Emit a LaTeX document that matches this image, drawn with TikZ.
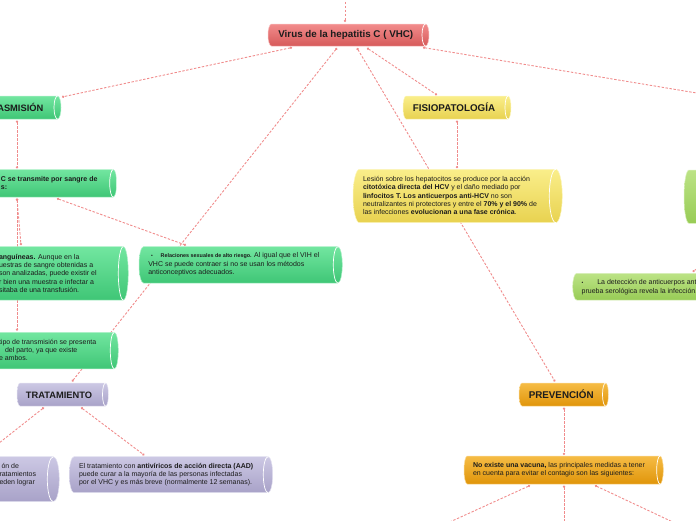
\documentclass[tikz,border=0pt]{standalone}
\usepackage{fontspec}
\setmainfont{Liberation Sans}
\usetikzlibrary{calc,arrows.meta}
\pgfdeclarelayer{background}
\pgfsetlayers{background,main}
\definecolor{linkc}{HTML}{F08C8C}
\definecolor{txtc}{HTML}{1C1C1C}
\definecolor{redT}{HTML}{F28C8C}
\definecolor{redB}{HTML}{D65A5A}
\definecolor{grnT}{HTML}{72E6A0}
\definecolor{grnB}{HTML}{3FC676}
\definecolor{yelT}{HTML}{FAEE8A}
\definecolor{yelB}{HTML}{E8D250}
\definecolor{purT}{HTML}{CCC8E4}
\definecolor{purB}{HTML}{A8A2C8}
\definecolor{oraT}{HTML}{F6BC45}
\definecolor{oraB}{HTML}{E0950A}
\definecolor{limT}{HTML}{BCE386}
\definecolor{limB}{HTML}{98CC56}
\newcommand\headfont{\fontsize{9.8}{11}\selectfont\bfseries}
\newcommand\bodyfont{\fontsize{7}{8.2}\selectfont}
% name, x1, y1, x2, y2, top colour, bottom colour, end radius
\newcommand\cylshape[8]{%
  \pgfmathsetmacro\cxa{#2+#8}%
  \pgfmathsetmacro\cxb{#4-#8}%
  \pgfmathsetmacro\chh{(#5-#3)/2}%
  \pgfmathsetmacro\cw{#4-#2}%
  \pgfmathsetmacro\cht{#5-#3}%
  \pgfmathsetmacro\cmx{(#2+#4)/2}%
  \pgfmathsetmacro\cmy{(#3+#5)/2}%
  \shade[top color=#6,bottom color=#7,draw=#6!55!white,line width=0.5pt]
    (\cxa,#3) -- (\cxb,#3) arc[start angle=90,end angle=-90,x radius=#8pt,y radius=\chh pt]
    -- (\cxa,#5) arc[start angle=270,end angle=90,x radius=#8pt,y radius=\chh pt] -- cycle;
  \draw[white,line width=0.7pt] (\cxb,#3) arc[start angle=90,end angle=270,x radius=#8pt,y radius=\chh pt];
  \node[inner sep=0,outer sep=0,minimum width=\cw pt,minimum height=\cht pt] (#1) at (\cmx,\cmy) {};
}
\begin{document}
\begin{tikzpicture}[x=1pt,y=-1pt,
  conn/.style={draw=linkc,line width=0.9pt,dash pattern=on 2.4pt off 1.6pt,{Circle[length=2.3pt]}-{Circle[length=2.3pt]}},
  head/.style={inner sep=0,outer sep=0,anchor=base,font=\headfont,text=txtc},
  body/.style={inner sep=0,outer sep=0,anchor=north west,align=left,font=\bodyfont,text=txtc}]
\useasboundingbox (0,0) rectangle (696,520);
\clip (0,0) rectangle (696,520);

\cylshape{root}{268}{24}{429}{46}{redT}{redB}{3.5}
\cylshape{trans}{-35}{96}{61}{119}{grnT}{grnB}{3.5}
\cylshape{fisio}{403}{96}{511}{119}{yelT}{yelB}{3}
\cylshape{trat}{17}{383}{108.5}{406}{purT}{purB}{3}
\cylshape{prev}{519}{383}{608.5}{406}{oraT}{oraB}{3}
\cylshape{n3}{-40}{169.5}{116.7}{197}{grnT}{grnB}{3.5}
\cylshape{transf}{-40}{246.7}{128.3}{300}{grnT}{grnB}{5}
\cylshape{rel}{139}{246.7}{342.3}{283}{grnT}{grnB}{4.5}
\cylshape{peri}{-40}{332.3}{118.3}{368.8}{grnT}{grnB}{4}
\cylshape{purL}{-40}{456.7}{59.3}{501.7}{purT}{purB}{6}
\cylshape{purR}{69.3}{456.7}{272.7}{492.7}{purT}{purB}{4.7}
\cylshape{yel}{353}{169.3}{562.3}{222.7}{yelT}{yelB}{6.5}
\cylshape{ora}{464}{456}{663.3}{484}{oraT}{oraB}{3.3}
\cylshape{lime1}{684}{170}{800}{223.3}{limT}{limB}{5}
\cylshape{lime2}{572.7}{273.3}{800}{300}{limT}{limB}{4}

\coordinate (topc) at (345,-20);
\coordinate (diag) at (740,100.2);
\coordinate (lp) at (740,237);
\coordinate (oc1) at (430,531);
\coordinate (oc2) at (564,531);
\coordinate (oc3) at (692,531);

\node[head] (root-t) at (345.8,37.8) {Virus de la hepatitis C ( VHC)};
\node[head,font=\fontsize{9.3}{11}\selectfont\bfseries] (trans-t) at (14.1,111) {TRASMISIÓN};
\node[head] (fisio-t) at (454,111) {FISIOPATOLOGÍA};
\node[head,font=\fontsize{9.3}{11}\selectfont\bfseries] (trat-t) at (59,398.3) {TRATAMIENTO};
\node[head] (prev-t) at (561.2,398.3) {PREVENCIÓN};

\node[body,font=\bodyfont\bfseries] (n3-t) at (1,175.4) {\strut C se transmite por sangre de\\s:};
\node[body] (transf-t) at (-1,253.7) {\strut{\bfseries anguíneas.} Aunque en la\\uestras de sangre obtenidas a\\son analizadas, puede existir el\\r bien una muestra e infectar a\\sitaba de una transfusión.};
\node[body,font=\fontsize{7}{8}\selectfont] (peri-t) at (-1,338.7) {\strut tipo de transmisión se presenta\\\hspace*{6pt}del parto, ya que existe\\e ambos.};
\node[body,font=\fontsize{7}{7.8}\selectfont] (purL-t) at (-0.5,463.1) {\strut\hspace*{2pt}ón de\\ratamientos\\eden lograr};
\node[body,font=\fontsize{7}{7.8}\selectfont] (purR-t) at (79,463.1) {\strut El tratamiento con {\bfseries antivíricos de acción directa (AAD)}\\puede curar a la mayoría de las personas infectadas\\por el VHC y es más breve (normalmente 12 semanas).};
\node[body,font=\fontsize{7}{8.35}\selectfont] (yel-t) at (363,175.7) {\strut Lesión sobre los hepatocitos se produce por la acción\\{\bfseries citotóxica directa del HCV} y el daño mediado por\\{\bfseries linfocitos T. Los anticuerpos anti-HCV} no son\\neutralizantes ni protectores y entre el {\bfseries 70\% y el 90\%} de\\las infecciones {\bfseries evolucionan a una fase crónica}.};
\node[body,font=\fontsize{7}{8.3}\selectfont] (ora-t) at (473,461.4) {\strut{\bfseries No existe una vacuna,} las principales medidas a tener\\en cuenta para evitar el contagio son las siguientes:};
\node[body,font=\fontsize{7}{8.4}\selectfont] (rel-t) at (148.3,252.1) {\strut\hspace*{2.7pt}\makebox[9.7pt][l]{\fontsize{5}{8.4}\selectfont\textbullet}{\fontsize{5.4}{8.4}\selectfont\bfseries Relaciones sexuales de alto riesgo.} Al igual que el VIH el\\VHC se puede contraer si no se usan los métodos\\anticonceptivos adecuados.};
\node[body,font=\fontsize{7}{8.3}\selectfont] (lime2-t) at (581.7,279.1) {\strut\makebox[15.6pt][l]{\fontsize{5}{8.3}\selectfont\textbullet}La detección de anticuerpos ant\\prueba serológica revela la infección.};

\begin{pgfonlayer}{background}
\draw[conn] (topc) -- ($(root.north west)+(77,-2)$);
\draw[conn] ($(root.south west)+(24,1.5)$) -- ($(trans.north east)+(1,1)$);
\draw[conn] ($(root.south west)+(69,2)$) -- ($(trat.north west)+(55,-1.5)$);
\draw[conn] ($(n3.south west)+(97,1.5)$) -- ($(rel.north west)+(47,-1.5)$);
\draw[conn] ($(root.south west)+(99,2)$) -- ($(fisio.north west)+(34,-1)$);
\draw[conn] ($(root.south west)+(89,2)$) -- ($(prev.north west)+(36,-1.5)$);
\draw[conn] ($(root.south east)+(-6,1.5)$) -- (diag);
\draw[conn] ($(trans.south west)+(52,1.5)$) -- ($(n3.north west)+(57,-1)$);
\draw[conn] ($(n3.south west)+(57,1.5)$) -- ($(transf.north west)+(61,-1.5)$);
\draw[conn] ($(n3.south west)+(57,1.5)$) -- ($(peri.north west)+(57,-1.5)$);
\draw[conn] ($(fisio.south west)+(54,1.5)$) -- ($(yel.north west)+(104,-1)$);
\draw[conn] ($(trat.south west)+(27,1.5)$) -- ($(purL.north west)+(23,-1)$);
\draw[conn] ($(trat.south west)+(64,1.5)$) -- ($(purR.north west)+(75,-1.5)$);
\draw[conn] ($(prev.south west)+(45,1.5)$) -- ($(ora.north west)+(100,-1)$);
\draw[conn] ($(ora.south west)+(66,1.5)$) -- (oc1);
\draw[conn] ($(ora.south west)+(100,1.5)$) -- (oc2);
\draw[conn] ($(ora.south west)+(131,1.5)$) -- (oc3);
\draw[conn] (lp) -- ($(lime2.north west)+(120,-1.5)$);
\end{pgfonlayer}
\end{tikzpicture}
\end{document}
